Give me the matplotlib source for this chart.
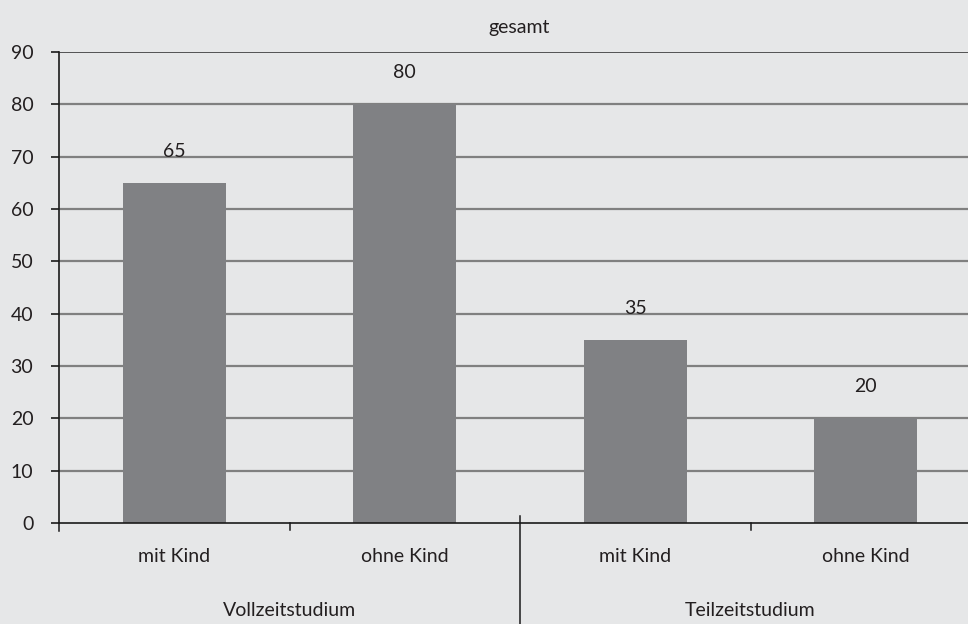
import matplotlib
matplotlib.use("Agg")
import matplotlib.pyplot as plt
from matplotlib.lines import Line2D
import matplotlib.transforms as mtransforms

categories = ["mit Kind", "ohne Kind", "mit Kind", "ohne Kind"]
groups = ["Vollzeitstudium", "Teilzeitstudium"]
values = [65, 80, 35, 20]
yticks = [0, 10, 20, 30, 40, 50, 60, 70, 80, 90]
title = "gesamt"

plt.rcParams['font.family'] = ['Lato', 'DejaVu Sans']
bg = "#e6e7e8"
barc = "#808184"
txt = "#231f20"
fs = 14

W, H = 968, 624
fig = plt.figure(figsize=(W/100, H/100), dpi=100, facecolor=bg)
x0, x1 = 59, 981
y0, y1 = 523, 52
ax = fig.add_axes([x0/W, 1 - y0/H, (x1-x0)/W, (y0-y1)/H])
ax.set_facecolor(bg)

xs = list(range(len(categories)))
ax.bar(xs, values, width=0.447, color=barc, zorder=2)
ax.set_xlim(-0.5, 3.5)
ax.set_ylim(0, 90)

for v in yticks[1:]:
    ax.axhline(v, color="#808080" if v != 90 else "#3a3a3a", lw=1.6 if v != 90 else 1.2, zorder=1)

for s in ["top", "right"]:
    ax.spines[s].set_visible(False)
ax.spines["left"].set_color("#1a1a1a")
ax.spines["left"].set_linewidth(1.2)
ax.spines["bottom"].set_color("#1a1a1a")
ax.spines["bottom"].set_linewidth(1.2)
ax.spines["bottom"].set_zorder(3)

ax.set_yticks(yticks)
ax.set_yticklabels([str(t) for t in yticks], fontsize=fs, color=txt)
ax.tick_params(axis="y", length=5.5, width=1.2, color="#1a1a1a", pad=13)
ax.set_xticks([])

for x, v in zip(xs, values):
    ax.text(x, v + 6, str(v), ha="center", va="center", fontsize=fs, color=txt)

tr = mtransforms.blended_transform_factory(ax.transData, fig.transFigure)
for x, c in zip(xs, categories):
    ax.text(x, 1 - 557/H, c, ha="center", va="center", fontsize=fs, color=txt, transform=tr)
for gi, g in enumerate(groups):
    ax.text(gi*2 + 0.5, 1 - 610/H, g, ha="center", va="center", fontsize=fs, color=txt, transform=tr)

# tick marks and divider
for xb, ybot in [(-0.5, 531), (0.5, 530), (1.5, 624), (2.5, 530)]:
    ax.add_line(Line2D([xb, xb], [1 - 516/H if xb == 1.5 else 1 - y0/H, 1 - ybot/H],
                       transform=tr, color="#1a1a1a", lw=1.1, clip_on=False))

fig.text(519/W, 1 - 28/H, title, ha="center", va="center", fontsize=fs, color=txt)

fig.savefig("out.png", dpi=100, facecolor=bg)
